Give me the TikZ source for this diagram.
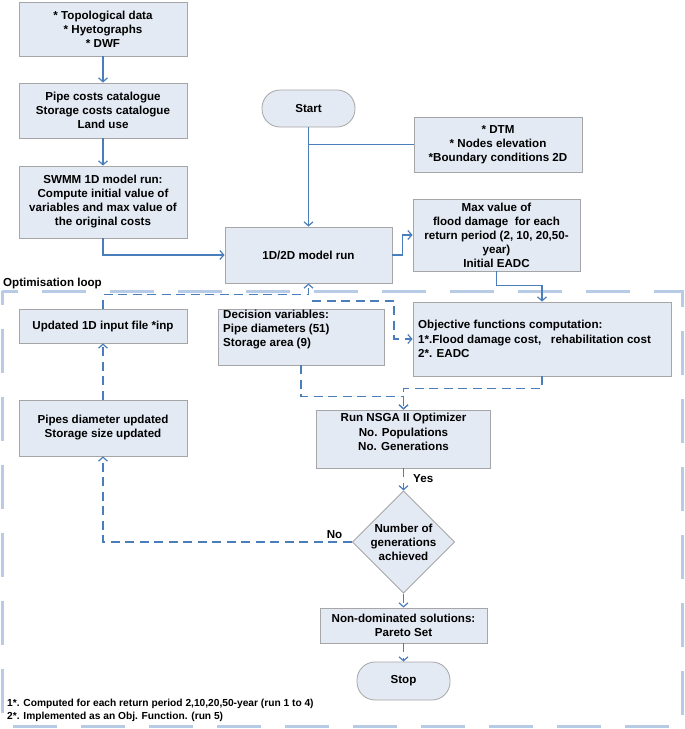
\documentclass[tikz,border=0pt]{standalone}
\usepackage{fontspec}
\setmainfont{Liberation Sans}
\usetikzlibrary{arrows.meta,shapes.geometric}
\definecolor{boxfill}{HTML}{E4EAF4}
\definecolor{boxline}{HTML}{A6A6A6}
\definecolor{flow}{HTML}{4A7EBB}
\definecolor{loopc}{HTML}{B7CBE6}
\tikzset{
  txt/.style={font=\fontsize{11.6}{14}\selectfont\bfseries},
  box/.style={draw=boxline, fill=boxfill, line width=0.8pt, rectangle, inner sep=0pt,
    align=center, txt},
  term/.style={box, rounded corners=18pt},
  dec/.style={draw=boxline, fill=boxfill, line width=0.8pt, diamond, inner sep=0pt,
    align=center, txt},
  flowline/.style={draw=flow, line width=1.4pt},
  arr/.style={flowline, -{Straight Barb[length=4pt,width=9pt,line width=1.2pt]}},
  dline/.style={flowline, dash pattern=on 9pt off 5.5pt},
  darr/.style={dline, -{Straight Barb[length=4pt,width=9pt,line width=1.2pt]}},
  lbl/.style={txt, inner sep=0pt},
  foot/.style={font=\fontsize{10.2}{12}\selectfont\bfseries, inner sep=0pt, anchor=west}
}
\begin{document}
\begin{tikzpicture}[x=1pt,y=-1pt]
\useasboundingbox (0,0) rectangle (685,729);
% loop frame
\draw[loopc, line width=3pt, dash pattern=on 44pt off 24pt, dash phase=30pt] (2,291) rectangle (682,726);
\node[lbl, anchor=west] (looplbl) at (3,283) {Optimisation loop};

% nodes
\node[box, minimum width=168pt, minimum height=54pt] (topo) at (103,29) {* Topological data\\* Hyetographs\\* DWF};
\node[box, minimum width=168pt, minimum height=55pt] (pipe) at (103,110.5) {Pipe costs catalogue\\Storage costs catalogue\\Land use};
\node[box, minimum width=168pt, minimum height=72pt] (swmm) at (103,202) {SWMM 1D model run:\\Compute initial value of\\variables and max value of\\the original costs};
\node[term, minimum width=93pt, minimum height=37pt] (start) at (308.5,108.5) {Start};
\node[box, minimum width=168pt, minimum height=55pt] (dtm) at (498,144.5) {* DTM\\* Nodes elevation\\*Boundary conditions 2D};
\node[box, minimum width=167pt, minimum height=56pt] (run) at (308.5,255) {1D/2D model run};
\node[box, minimum width=167pt, minimum height=72pt] (maxv) at (496.5,235) {Max value of\\flood damage~ for each\\return period (2, 10, 20,50-\\year)\\Initial EADC};
\node[box, minimum width=168pt, minimum height=34pt] (upd) at (103,326) {Updated 1D input file *inp};
\node[box, minimum width=166pt, minimum height=56pt] (decv) at (301,337) {};
\node[anchor=north west, inner sep=0pt, align=left, txt] (dectext) at (223,310) {Decision variables:\\Pipe diameters (51)\\Storage area (9)};
\node[box, minimum width=258pt, minimum height=74pt] (obj) at (542,339) {};
\node[anchor=west, inner sep=0pt, align=left, font=\fontsize{11.6}{14.5}\selectfont\bfseries] (objtext) at (418,339) {Objective functions computation:\\1*.Flood damage cost,~~ rehabilitation cost\\2*. EADC};
\node[box, minimum width=168pt, minimum height=56pt] (pupd) at (103,428) {Pipes diameter updated\\Storage size updated};
\node[box, minimum width=174pt, minimum height=58pt] (nsga) at (403.5,439) {};
\node[align=center, inner sep=0pt, font=\fontsize{11.6}{14.5}\selectfont\bfseries] (nsgatext) at (403.5,432) {Run NSGA II Optimizer\\No. Populations\\No. Generations};
\node[dec, minimum width=100pt, minimum height=94pt] (dia) at (403.5,542) {Number of\\generations\\achieved};
\node[box, minimum width=167pt, minimum height=35pt] (nond) at (403.5,625.5) {Non-dominated solutions:\\Pareto Set};
\node[term, minimum width=93pt, minimum height=38pt] (stop) at (403.5,681) {Stop};

% solid connectors
\draw[arr] (topo.south) -- (pipe.north);
\draw[arr] (pipe.south) -- (swmm.north);
\draw[arr] (swmm.south) |- (run.west);
\draw[arr] (start.south) -- (run.north);
\draw[flowline] (dtm.west) -- (start.south |- dtm.west);
\draw[arr] (run.east) -- ++(10,0) |- (maxv.west);
\draw[arr] (maxv.south) -- ++(0,14) -| (obj.north);

% dashed connectors
\draw[darr] (upd.north) -- ++(0,-14) -| (run.south);
\coordinate (runout) at (312,301);
\draw[darr] (runout) -- (394,301) |- (obj.west);
\draw[darr] (decv.south) -- ++(0,31) -| (nsga.north);
\draw[darr] (obj.south) -- ++(0,12) -| (nsga.north);
\draw[darr] (nsga.south) -- node[lbl, right=9pt, pos=0.45] (yes) {Yes} (dia.north);
\draw[darr] (dia.west) -- node[lbl, above=3pt, pos=0.07] (no) {No} (pupd.south |- dia.west) -- (pupd.south);
\draw[darr] (pupd.north) -- (upd.south);
\draw[darr] (dia.south) -- (nond.north);
\draw[darr] (nond.south) -- (stop.north);

% footnotes
\node[foot] (f1) at (7,704) {1*. Computed for each return period 2,10,20,50-year (run 1 to 4)};
\node[foot] (f2) at (7,717) {2*. Implemented as an Obj. Function. (run 5)};
\end{tikzpicture}
\end{document}
